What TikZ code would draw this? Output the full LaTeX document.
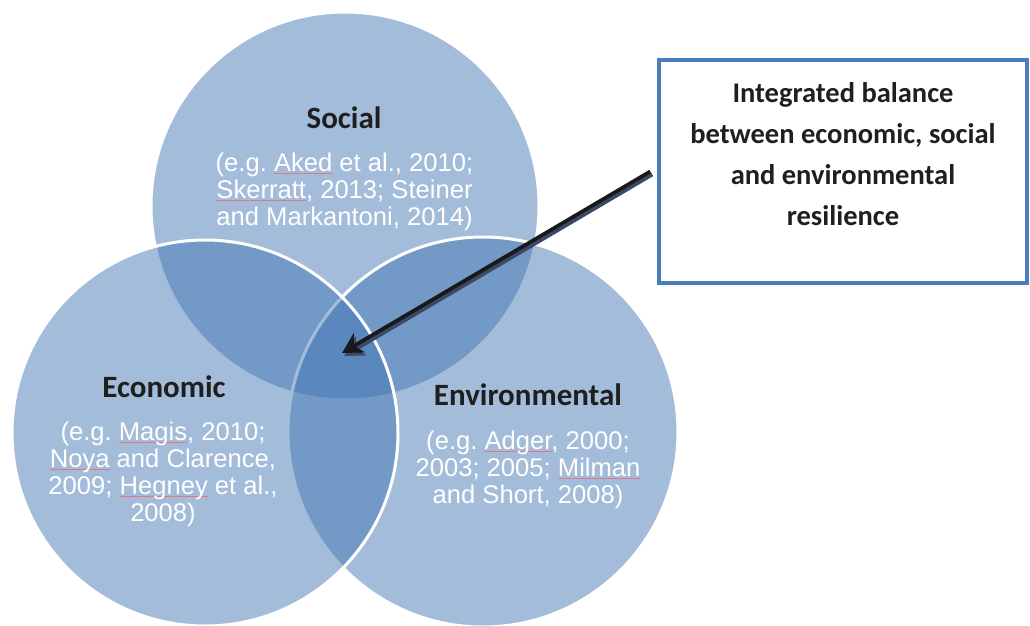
\documentclass[tikz,border=0pt]{standalone}
\usepackage{fontspec}
\setmainfont{Liberation Sans}
\newfontfamily\calfont{Carlito}
\usetikzlibrary{arrows.meta,positioning}
\definecolor{vennblue}{RGB}{63,115,178}
\definecolor{boxblue}{RGB}{74,126,187}
\definecolor{shadowgray}{RGB}{58,74,102}
\definecolor{spellred}{RGB}{226,120,130}
\newlength\spellwd
\newcommand\spellmark[1]{\settowidth\spellwd{#1}\rlap{\textcolor{spellred}{\rule[-3pt]{\spellwd}{0.7pt}}}#1}
\frenchspacing

\begin{document}
\begin{tikzpicture}[x=1pt, y=-1pt,
  venn/.style={circle, fill=vennblue, fill opacity=0.48, draw=white, line width=3pt, inner sep=0pt},
  head/.style={font=\calfont\bfseries\fontsize{31}{33}\selectfont, text=black!88, anchor=base},
  cite/.style={font=\fontsize{25.6}{27}\selectfont, text=white, align=center, anchor=base},
  pointer/.style={line width=3.8pt, -{Stealth[length=20pt,width=22pt,inset=6pt]}}]
  \useasboundingbox (0,0) rectangle (1030,626);

  % the three circles
  \node[venn, minimum size=388pt] (social) at (345,206) {};
  \node[venn, minimum size=390pt] (environmental) at (483,432) {};
  \node[venn, minimum size=386pt] (economic) at (205,433) {};

  % labels (base = last line)
  \node[head] (sociallabel) at (344,128) {Social};
  \node[cite] (socialrefs) at (344.5,225) {(e.g. \spellmark{Aked} et al., 2010;\\\spellmark{Skerratt}, 2013; Steiner\\and Markantoni, 2014)};
  \node[head] (economiclabel) at (164,397) {Economic};
  \node[cite] (economicrefs) at (163,521) {(e.g. \spellmark{Magis}, 2010;\\\spellmark{Noya} and Clarence,\\2009; \spellmark{Hegney} et al.,\\2008)};
  \node[head] (environmentallabel) at (528,405) {Environmental};
  \node[cite] (environmentalrefs) at (528,503) {(e.g. \spellmark{Adger}, 2000;\\2003; 2005; \spellmark{Milman}\\and Short, 2008)};

  % the box and its pointer
  \node[draw=boxblue, line width=3.5pt, fill=white, minimum width=368pt, minimum height=223pt] (balance) at (843,171.5) {};
  \node[font=\calfont\bfseries\fontsize{28.5}{40.7}\selectfont, align=center, anchor=base, text=black!88] (balancetext) at (843,225) {Integrated balance\\between economic, social\\and environmental\\resilience};

  \coordinate (core) at (342,353);
  \draw[pointer, shadowgray] ([xshift=-5pt,yshift=-3pt]balance.west) -- ([xshift=2pt,yshift=-3pt]core);
  \draw[pointer, black!90] ([xshift=-7pt]balance.west) -- (core);
\end{tikzpicture}
\end{document}
